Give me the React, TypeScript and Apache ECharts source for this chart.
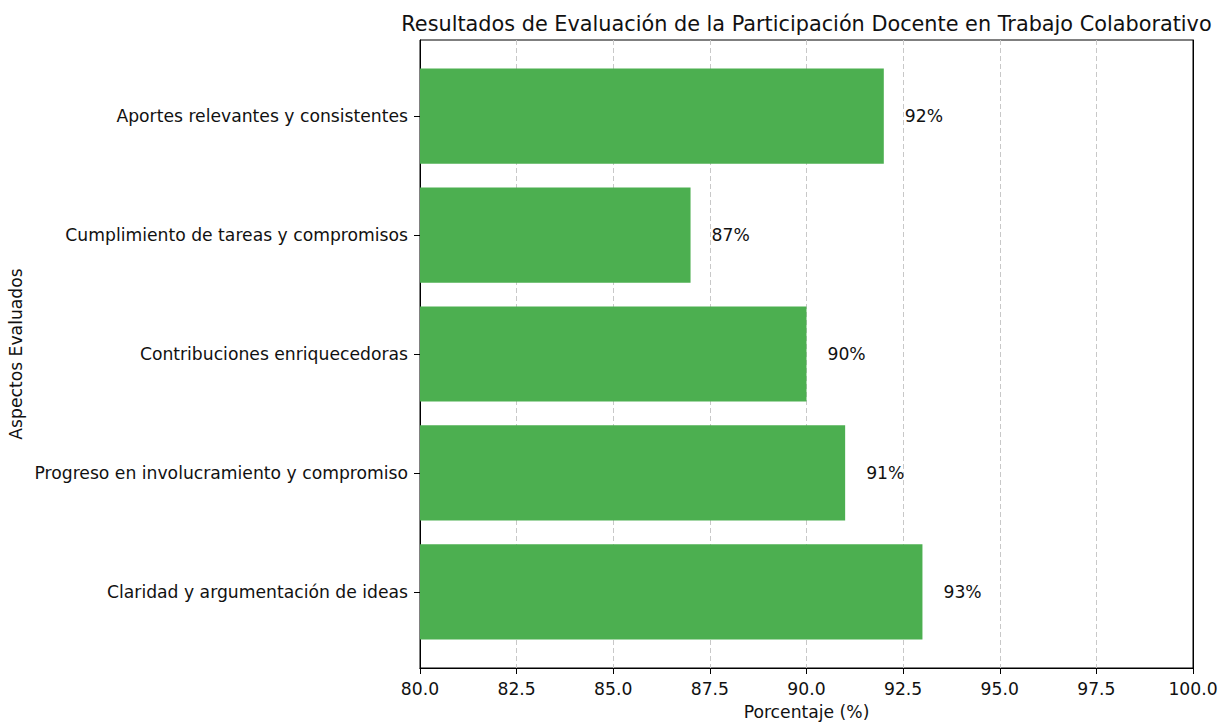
import React, { useEffect, useRef } from "react";
import * as echarts from "echarts";

const categories = [
  "Claridad y argumentación de ideas",
  "Progreso en involucramiento y compromiso",
  "Contribuciones enriquecedoras",
  "Cumplimiento de tareas y compromisos",
  "Aportes relevantes y consistentes",
];
const values = [93, 91, 90, 87, 92];
const xMin = 80;
const xMax = 100;
const xStep = 2.5;

export default function App() {
  const ref = useRef<HTMLDivElement>(null);
  useEffect(() => {
    document.body.style.margin = "0";
    const chart = echarts.init(ref.current!, null, { renderer: "svg" });
    const font = "DejaVu Sans";
    const fs = 17.2;
    const plot = { left: 420, right: 33, top: 40, bottom: 55 };
    const band = 628 / 5.28;
    const pad = 0.14 * band;
    const frameAxis = {
      axisLine: { show: true, lineStyle: { color: "#000", width: 1 } },
      axisTick: { show: false },
      axisLabel: { show: false },
      splitLine: { show: false },
    };
    chart.setOption({
      animation: false,
      backgroundColor: "#fff",
      title: {
        text: "Resultados de Evaluación de la Participación Docente en Trabajo Colaborativo",
        left: 801.5,
        textAlign: "center",
        top: 8,
        textStyle: { fontFamily: font, fontSize: 20.8, fontWeight: "normal", color: "#111" },
      },
      grid: [
        {
          ...plot,
          show: true,
          borderColor: "#000",
          borderWidth: 1,
          backgroundColor: "transparent",
          containLabel: false,
          outerBoundsMode: "none",
        },
        {
          left: plot.left,
          right: plot.right,
          top: plot.top + pad,
          bottom: plot.bottom + pad,
          containLabel: false,
          outerBoundsMode: "none",
        },
      ],
      xAxis: [
        {
          gridIndex: 0,
          type: "value",
          min: xMin,
          max: xMax,
          interval: xStep,
          name: "Porcentaje (%)",
          nameLocation: "middle",
          nameGap: 35,
          nameTextStyle: { fontFamily: font, fontSize: fs, color: "#111" },
          axisLine: { show: true, lineStyle: { color: "#000" } },
          axisTick: { show: true, length: 6, lineStyle: { color: "#000" } },
          axisLabel: {
            fontFamily: font,
            fontSize: fs,
            color: "#111",
            margin: 12,
            formatter: (v: number) => v.toFixed(1),
          },
          splitLine: {
            show: true,
            showMinLine: false,
            showMaxLine: false,
            lineStyle: { color: "#c8c8c8", type: [5, 3], width: 1 },
          },
        },
        { gridIndex: 1, type: "value", min: xMin, max: xMax, show: false },
        { gridIndex: 0, type: "value", min: xMin, max: xMax, position: "top", ...frameAxis },
      ],
      yAxis: [
        {
          gridIndex: 0,
          type: "value",
          min: 0,
          max: 1,
          ...frameAxis,
          name: "Aspectos Evaluados",
          nameLocation: "middle",
          nameGap: 396,
          nameTextStyle: { fontFamily: font, fontSize: fs, color: "#111" },
        },
        {
          gridIndex: 1,
          type: "category",
          data: categories,
          axisLine: { show: false },
          axisTick: { show: true, alignWithLabel: true, length: 6, lineStyle: { color: "#000" } },
          axisLabel: { fontFamily: font, fontSize: fs, color: "#111", margin: 12 },
        },
        { gridIndex: 0, type: "value", min: 0, max: 1, position: "right", ...frameAxis },
      ],
      series: [
        {
          type: "bar",
          xAxisIndex: 1,
          yAxisIndex: 1,
          data: values,
          barWidth: "80%",
          itemStyle: { color: "#4CAF50" },
          label: {
            show: true,
            position: "right",
            distance: 21,
            formatter: (p: any) => `${p.value}%`,
            fontFamily: font,
            fontSize: fs,
            color: "#111",
          },
        },
      ],
    });
    return () => chart.dispose();
  }, []);
  return <div ref={ref} style={{ width: 1226, height: 723 }} />;
}
